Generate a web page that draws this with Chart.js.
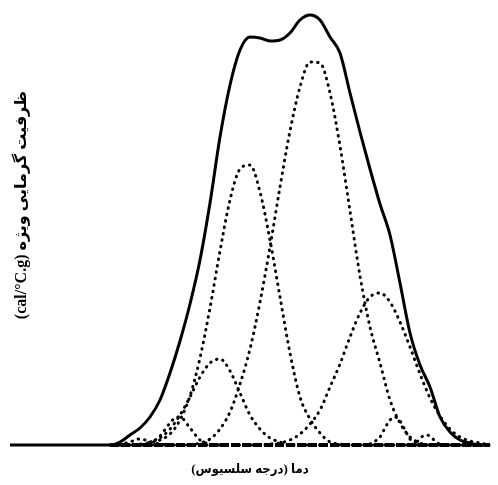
<!DOCTYPE html>
<html><head><meta charset="utf-8">
<script src="https://cdn.jsdelivr.net/npm/chart.js@4.4.1/dist/chart.umd.min.js"></script>
<style>html,body{margin:0;padding:0;background:#fff}#wrap{width:498px;height:485px}</style>
</head><body><div id="wrap"><canvas id="c" width="498" height="485"></canvas></div>
<script>
// Temperature grid (arbitrary units) and specific heat capacity (arbitrary units)
const temps = [110,120,130,140,150,160,170,180,190,200,210,220,230,240,250,260,270,280,290,300,310,320,330,340,350,360,370,380,390,400,410,420,430,440,450,460,470,480,490];
const totalCp = [0,3,10,17,28,45,72,104,141,185,242,308,360,395,408,407,404,405,412,425,430,425,408,392,352,313,276,241,210,162,112,80,58,28,13,5,2,0,0];
const peak1 = [0,0,0,0,3,7,16,30,48,68,82,86,74,52,30,16,7,3,0,0,0,0,0,0,0,0,0,0,0,0,0,0,0,0,0,0,0,0,0];
const peak2 = [0,0,0,1,2,5,11,25,49,87,137,194,245,276,280,253,205,148,92,48,26,12,3,1,0,0,0,0,0,0,0,0,0,0,0,0,0,0,0];
const peak3 = [0,0,0,0,0,0,0,0,0,2,6,16,33,61,96,143,198,258,314,358,383,382,352,299,234,169,118,82,45,22,8,2,0,0,0,0,0,0,0];
const peak4 = [0,0,0,0,0,0,0,0,0,0,0,0,0,0,0,0,1,2,5,11,21,35,58,81,108,132,148,152,143,123,98,71,47,29,16,8,4,2,0];
const smallTempsA = [140,150,160,170,175,180,190,200,210,220];
const smallA = [0,2,9,22,27,28,17,5,1,0];
const smallTempsB = [370,380,385,390,395,400,405,410,420];
const smallB = [1,8,17,25,28,24,15,6,0];
const smallTempsC = [412,418,423,427,431,436,442];
const smallC = [0,4,9,10,8,3,0];
const smallTempsD = [118,126,133,139,145,152,160,168];
const smallD = [0,2,4,6,5,3,1,0];
const baseTemps = [10,100];
const baseCp = [0,0];
const baselineTemps = [110,490];
const baselineCp = [0,0];
const xTitle = 'دما (درجه سلسیوس)';
const yTitle = 'ظرفیت گرمایی ویژه (cal/°C.g)';

const pts = (xs, ys) => xs.map((x, i) => ({x: x, y: ys[i]}));
const dotted = (xs, ys, off) => ({
  data: pts(xs, ys), borderColor: '#000', borderWidth: 3, borderCapStyle: 'round',
  borderDash: [0.5, 6], borderDashOffset: off, pointRadius: 0, fill: false,
  cubicInterpolationMode: 'monotone', clip: false
});

const titlePlugin = {
  id: 'titles',
  afterDraw(chart) {
    const ctx = chart.ctx;
    ctx.save();
    ctx.fillStyle = '#000';
    ctx.direction = 'rtl';
    ctx.textAlign = 'center';
    ctx.textBaseline = 'middle';
    ctx.font = 'bold 13px "Liberation Serif", "DejaVu Sans Condensed", "DejaVu Sans", serif';
    ctx.fillText(xTitle, 250, 470);
    ctx.translate(22, 205);
    ctx.rotate(-Math.PI / 2);
    ctx.font = 'bold 16px "Liberation Serif", "DejaVu Sans", serif';
    ctx.fillText(yTitle, 0, 0);
    ctx.restore();
  }
};

new Chart(document.getElementById('c'), {
  type: 'line',
  data: {
    datasets: [
      {data: pts(baseTemps.concat(temps), baseCp.concat(totalCp)), borderColor: '#000', borderWidth: 3,
       pointRadius: 0, fill: false, cubicInterpolationMode: 'monotone', clip: false},
      {data: pts(baselineTemps, baselineCp), borderColor: '#000', borderWidth: 4, borderDash: [9, 2],
       pointRadius: 0, fill: false, clip: false},
      dotted(temps, peak1, 0),
      dotted(temps, peak2, 2),
      dotted(temps, peak3, 4),
      dotted(temps, peak4, 1),
      dotted(smallTempsA, smallA, 3),
      dotted(smallTempsB, smallB, 0),
      dotted(smallTempsC, smallC, 0),
      dotted(smallTempsD, smallD, 5)
    ]
  },
  options: {
    responsive: false, animation: false,
    layout: {padding: {left: 10, right: 8, top: 5, bottom: 40}},
    plugins: {legend: {display: false}, tooltip: {enabled: false}},
    scales: {
      x: {type: 'linear', min: 10, max: 490, display: false},
      y: {min: 0, max: 440, display: false}
    }
  },
  plugins: [titlePlugin]
});
</script></body></html>
